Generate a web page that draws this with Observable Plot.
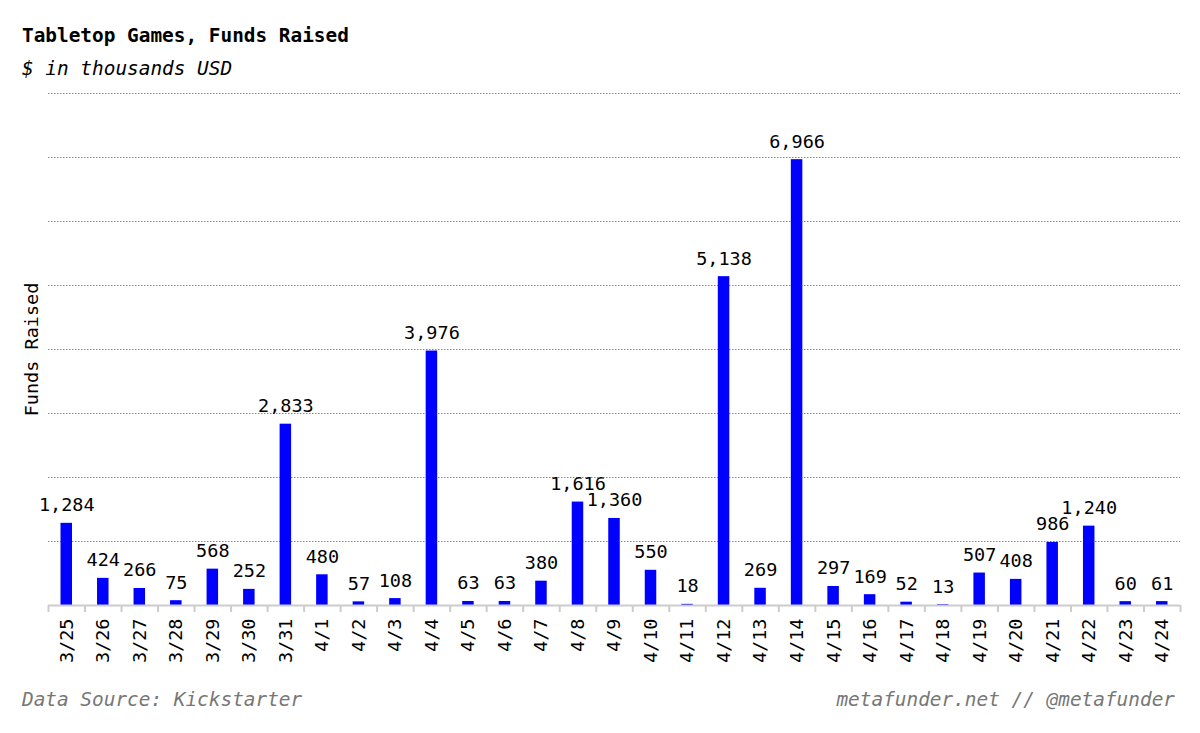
<!DOCTYPE html>
<html>
<head>
<meta charset="utf-8">
<script src="https://cdn.jsdelivr.net/npm/d3@7"></script>
<script src="https://cdn.jsdelivr.net/npm/@observablehq/plot@0.6"></script>
<style>
  html, body { margin: 0; padding: 0; background: #fff; }
  #wrap { position: relative; width: 1200px; height: 733px; font-family: "DejaVu Sans Mono", "Liberation Mono", monospace; }
  .t { position: absolute; white-space: nowrap; line-height: 19px; font-size: 19.4px; }
  #title { left: 22px; top: 26px; font-weight: bold; color: #000; }
  #subtitle { left: 22px; top: 59px; font-style: italic; color: #000; }
  #src { left: 22px; top: 690px; font-style: italic; color: #777; }
  #credit { right: 25px; top: 690px; font-style: italic; color: #777; }
  #chart { position: absolute; left: 0; top: 85px; }
</style>
</head>
<body>
<div id="wrap">
  <div class="t" id="title">Tabletop Games, Funds Raised</div>
  <div class="t" id="subtitle">$ in thousands USD</div>
  <div id="chart"></div>
  <div class="t" id="src">Data Source: Kickstarter</div>
  <div class="t" id="credit">metafunder.net // @metafunder</div>
</div>
<script>
const dates = ["3/25","3/26","3/27","3/28","3/29","3/30","3/31","4/1","4/2","4/3","4/4","4/5","4/6","4/7","4/8","4/9","4/10","4/11","4/12","4/13","4/14","4/15","4/16","4/17","4/18","4/19","4/20","4/21","4/22","4/23","4/24"];
const funds = [1284,424,266,75,568,252,2833,480,57,108,3976,63,63,380,1616,1360,550,18,5138,269,6966,297,169,52,13,507,408,986,1240,60,61];
const gridValues = [1000,2000,3000,4000,5000,6000,7000,8000];

const data = dates.map((d, i) => ({date: d, value: funds[i]}));

const W = 1200, H = 595, ML = 48, MR = 20, MT = 8, MB = 75;
const step = (W - ML - MR) / dates.length;
const barW = 11.5;
const inset = (step - barW) / 2;
const fontFamily = "DejaVu Sans Mono, Liberation Mono, monospace";

const chart = Plot.plot({
  width: W,
  height: H,
  marginLeft: ML,
  marginRight: MR,
  marginTop: MT,
  marginBottom: MB,
  style: {fontFamily, fontSize: "18px", color: "#000", background: "#fff"},
  x: {domain: dates, padding: 0, round: false, label: null},
  y: {domain: [0, 8000], label: null, axis: null},
  marks: [
    Plot.gridY(gridValues, {stroke: "#888", strokeOpacity: 1, strokeDasharray: "1.5,1.5", strokeWidth: 1}),
    Plot.barY(data, {x: "date", y: "value", fill: "#0000ff", insetLeft: inset, insetRight: inset}),
    Plot.ruleY([0], {stroke: "#ccc", strokeWidth: 2}),
    Plot.axisX({tickSize: 7, tickFormat: () => "", dx: -step / 2, stroke: "#ccc", strokeWidth: 2}),
    Plot.axisX({ticks: [dates[dates.length - 1]], tickSize: 7, tickFormat: () => "", dx: step / 2, stroke: "#ccc", strokeWidth: 2}),
    Plot.axisX({tickSize: 0, tickPadding: 13, tickRotate: -90, fontSize: 18.5, fill: "#000", label: null}),
    Plot.text(data, {x: "date", y: "value", text: d => d3.format(",")(d.value), lineAnchor: "bottom", dy: -12, fontSize: 18.5, fill: "#000"}),
    Plot.text(["Funds Raised"], {frameAnchor: "left", rotate: -90, textAnchor: "middle", dx: -16, fontSize: 18.5, fill: "#000"})
  ]
});
document.getElementById("chart").appendChild(chart);
</script>
</body>
</html>
